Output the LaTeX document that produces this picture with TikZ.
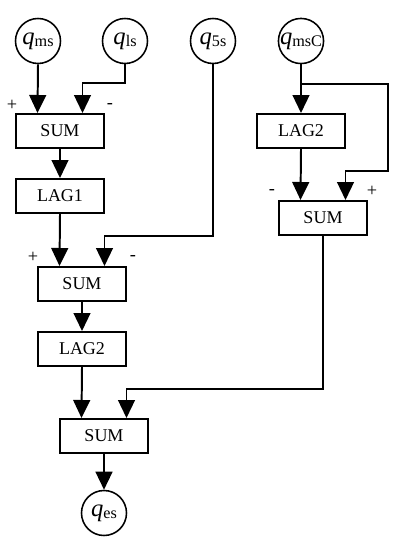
\documentclass[tikz,border=0pt]{standalone}
\usepackage{fontspec}
\setmainfont{Liberation Serif}
\usetikzlibrary{arrows.meta,calc,positioning}
\newcommand{\qvar}[1]{{\fontsize{17.5}{17}\selectfont\itshape q}\raisebox{-2pt}{\fontsize{11.5}{12}\selectfont #1}}
\tikzset{
  block/.style={
    draw, line width=1.4pt, minimum width=2.2cm, minimum height=0.85cm,
    inner sep=0pt, font=\fontsize{12.8}{14}\selectfont
  },
  signal/.style={
    circle, draw, line width=1.1pt, minimum size=1.125cm, inner sep=0pt
  },
  sign/.style={inner sep=0pt, font=\fontsize{13}{14}\selectfont},
  flow/.style={-{Triangle[length=4.5mm,width=4.2mm]}, line width=1.4pt}
}

\begin{document}
\begin{tikzpicture}[x=0.025cm,y=-0.025cm]
        \useasboundingbox (0,0) rectangle (406,550);
        % signals
        \node[signal] (qms) at (38,41) {\qvar{ms}};
        \node[signal] (qls) at (125,41) {\qvar{ls}};
        \node[signal] (q5s) at (213,41) {\qvar{5s}};
        \node[signal] (qmsC) at (301,41) {\qvar{msC}};
        \node[signal] (qes) at (104,513) {\qvar{es}};
        % blocks
        \node[block] (sum1) at (60,131) {SUM};
        \node[block] (lag1) at (60,196) {LAG1};
        \node[block] (sum2) at (82,284) {SUM};
        \node[block] (lag2) at (82,349) {LAG2};
        \node[block] (sum3) at (104,436) {SUM};
        \node[block] (lag2r) at (301,131) {LAG2};
        \node[block] (sum4) at (323,218) {SUM};
        % inputs of the sums
        \coordinate (s1a) at ($(sum1.north)!.5!(sum1.north west)$);
        \coordinate (s1b) at ($(sum1.north)!.5!(sum1.north east)$);
        \coordinate (s2a) at ($(sum2.north)!.5!(sum2.north west)$);
        \coordinate (s2b) at ($(sum2.north)!.5!(sum2.north east)$);
        \coordinate (s3a) at ($(sum3.north)!.5!(sum3.north west)$);
        \coordinate (s3b) at ($(sum3.north)!.5!(sum3.north east)$);
        \coordinate (s4a) at ($(sum4.north)!.5!(sum4.north west)$);
        \coordinate (s4b) at ($(sum4.north)!.5!(sum4.north east)$);
        % signs
        \node[sign] (p1) at ($(sum1.north west)+(-3,-8)$) {+};
        \node[sign] (m1) at ($(sum1.north east)+(5,-7)$) {-};
        \node[sign] (p2) at ($(sum2.north west)+(-4,-9)$) {+};
        \node[sign] (m2) at ($(sum2.north east)+(6,-8)$) {-};
        \node[sign] (m4) at ($(sum4.north west)+(-6,-8)$) {-};
        \node[sign] (p4) at ($(sum4.north east)+(4,-9)$) {+};
        % connectors
        \draw[flow] (qms.south) -- (s1a);
        \draw[flow] (qls.south) -- ++(0,19) -| (s1b);
        \draw[flow] (sum1.south) -- (lag1.north);
        \draw[flow] (lag1.south) -- (s2a);
        \draw[flow] (q5s.south) -- ++(0,172) -| (s2b);
        \draw[flow] (sum2.south) -- (lag2.north);
        \draw[flow] (lag2.south) -- (s3a);
        \draw[flow] (qmsC.south) -- (lag2r.north);
        \draw[flow] ($(qmsC.south)+(0,20)$) -| ++(87,87) -| (s4b);
        \draw[flow] (lag2r.south) -- (s4a);
        \draw[flow] (sum4.south) -- ++(0,153) -| (s3b);
        \draw[flow] (sum3.south) -- (qes.north);
      \end{tikzpicture}
\end{document}
